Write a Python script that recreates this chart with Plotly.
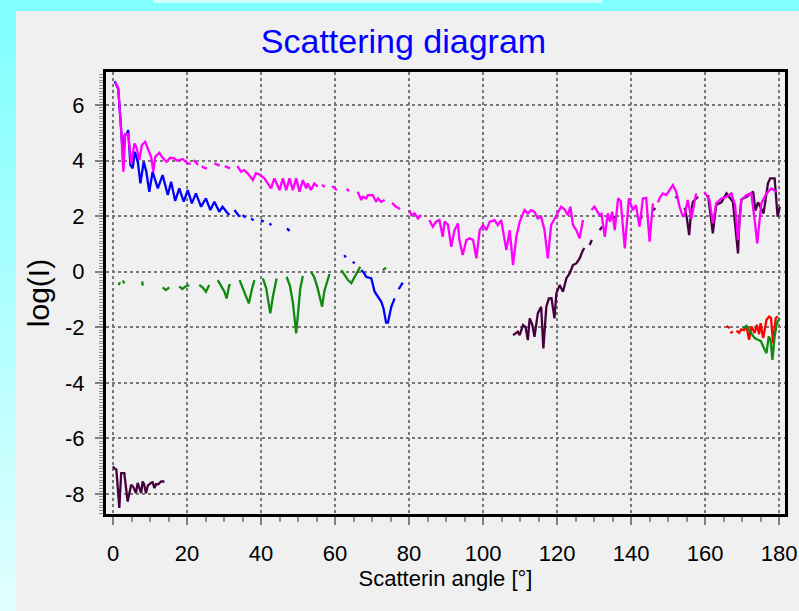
import plotly.graph_objects as go

# ---------------- data ----------------
magenta_x = [0.6, 1.4, 2.1, 2.8, 3.3, 4.1, 4.9, 5.8, 6.4, 7.1, 7.8, 8.7, 9.5, 10.3, 10.9, 11.4, 12.5, 13.4, 14.5, 15.4,
             16.6, 17.2, 17.9, 18.8, 20.2, 21.0, None, 21.8, 22.4, 23.0, None, 24.0, 24.7, 25.4, None, 27.4, 28.1, 28.8, None,
             30.2, 30.9, 31.6, None,
             33.6, 34.6, 35.4, 36.4, 37.8, 38.6, 39.6, 40.9, 42.7, 43.6, 45.0, 45.9, 46.8, 47.7, 48.6, 49.5, 50.4, 51.3,
             52.2, 52.6, 53.5, 54.4, 55.3, None, 56.4, 57.3, None, 59.2, 60.5, None, 63.1, 63.8, None, 66.1, 67.1, 67.5,
             68.4, 68.9, 70.2, 71.1, 71.6, 72.5, 73.4, None, 75.4, 76.5, 77.6, None, 80.1, 80.6, 81.5, 82.4, 83.3, None,
             85.5, 86.4, 87.3, 88.2, 89.1, 89.6, 90.5, 91.4, 92.3, 93.2, 93.6, 94.5, 95.5, 96.4, 97.3, 98.2, 99.1, 100.0,
             100.9, 101.8, 103.1, 104.0, 104.9, 106.3, 107.2, 108.1, 109.0, 109.9, 111.2, 112.1, 113.0, 113.9, 114.8,
             115.7, 116.6, 117.5, 118.4, 119.3, 120.2, 121.1, 122.0, 122.9, 123.6, 124.3, 125.2, 126.1, 127.0, None,
             129.3, 130.1, 131.5, 132.0, 132.9, 133.7, 134.3, 134.9, 135.6, 136.5, 137.2, 138.3, 139.4, 140.5, 141.3,
             142.3, 143.2, 144.1, 145.0, 145.9, None, 147.3, 147.7, 148.6, 149.5, 150.4, 151.3, 152.2, 153.1, 154.0,
             154.6, 155.3, 156.3, 157.6, None, 159.8, 161.2, 162.1, 163.0, 164.4, 165.8, 167.1, 168.1, 168.9, 169.8,
             171.2, 172.5, 173.4, 174.1, 175.2, 176.6, 177.9, 179.3]
magenta_y = [6.84, 6.6, 5.3, 3.6, 4.95, 4.95, 3.9, 4.62, 4.45, 4.02, 4.56, 4.68, 4.4, 4.14, 3.6, 4.14, 4.28, 4.1, 3.96, 4.1,
             4.08, 4.0, 4.02, 4.06, 3.9, 3.88, None, 4.02, 3.92, 3.84, None, 3.8, 3.74, 3.72, None, 3.9, 3.86, 3.82, None,
             3.8, 3.76, 3.72, None,
             3.8, 3.6, 3.66, 3.54, 3.3, 3.55, 3.5, 3.36, 3.0, 3.36, 2.94, 3.36, 2.94, 3.36, 2.94, 3.36, 2.88, 3.3,
             3.0, 3.18, 2.94, 3.18, 3.06, None, 3.12, 3.06, None, 3.08, 2.94, None, 2.98, 2.9, None, 2.88, 2.58, 2.7,
             2.64, 2.76, 2.76, 2.52, 2.64, 2.52, 2.58, None, 2.48, 2.34, 2.26, None, 2.22, 2.04, 2.1, 1.92, 2.04, None,
             1.86, 1.62, 1.8, 1.86, 1.26, 1.8, 1.7, 0.9, 1.5, 1.74, 1.14, 0.6, 1.14, 1.2, 1.14, 0.48, 1.5, 1.68,
             1.5, 1.8, 1.86, 1.68, 1.86, 0.78, 1.5, 0.24, 1.26, 1.8, 2.22, 2.1, 2.22, 2.16, 1.92,
             1.98, 1.5, 0.48, 1.68, 1.92, 2.16, 2.34, 2.25, 2.04, 2.34, 1.68, 1.5, 1.2, 1.86, None,
             2.22, 2.34, 2.04, 2.08, 1.26, 2.1, 1.8, 2.16, 1.5, 2.64, 2.55, 0.84, 2.64, 2.22, 2.4,
             1.62, 2.64, 2.66, 1.08, 2.46, None, 2.5, 2.64, 2.82, 2.76, 2.94, 3.12, 2.88, 2.34, 1.98,
             2.1, 2.58, 1.92, 2.82, None, 2.88, 2.58, 1.74, 2.46, 2.64, 2.7, 2.82, 2.4, 1.14, 2.58,
             2.76, 2.82, 1.86, 1.02, 2.46, 2.82, 3.0, 2.88]

blue_x = [0.4, 1.4, 2.1, 2.8, 3.1, 3.8, 4.1, 4.4, 4.7, 5.3, 5.9, 6.7, 7.4, 8.3, 9.0, 9.8, 10.7, 12.1, 13.4, 14.8, 15.7,
          16.8, 17.9, 19.1, 20.2, 21.3, 22.4, 23.8, 25.1, 26.3, 27.4, 28.7, 29.6, 31.0, 31.5, None, 32.8, 33.5, 34.2,
          None, 35.0, 35.8, None, 37.3, 38.0, None, 40.0, 40.7, None, 42.3, 42.8, None, 47.0, 47.7, None,
          62.5, 62.9, None, 64.8, 65.3, None, 67.1, 67.9, 68.4, 69.8, 70.2, 70.7, 71.6, 72.5, 73.1, 73.8, 74.3,
          75.2, 76.1, None, 77.2, 78.3]
blue_y = [6.86, 6.6, 5.3, 3.9, 4.9, 4.98, 5.1, 4.56, 3.84, 3.72, 4.32, 3.96, 3.18, 3.96, 3.6, 2.88, 3.6, 3.0, 3.48, 2.76, 3.24,
          2.55, 3.0, 2.52, 2.94, 2.46, 2.82, 2.34, 2.64, 2.22, 2.52, 2.16, 2.34, 2.1, 2.05, None, 2.22, 2.1, 1.98,
          None, 2.04, 1.95, None, 1.92, 1.85, None, 1.86, 1.8, None, 1.74, 1.68, None, 1.56, 1.47, None,
          0.6, 0.52, None, 0.36, 0.3, None, 0.06, -0.06, -0.18, -0.24, -0.45, -0.72, -0.9, -1.08, -1.32, -1.83, -1.83,
          -1.26, -0.96, None, -0.63, -0.39]

green_x = [1.5, 1.9, None, 2.6, 3.1, None, 7.9, 8.0, None, 13.4, 14.3, 15.2, None, 17.9, 18.7, 19.6, 20.6, None,
           23.3, 24.2, 25.1, 26.0, None, 28.3, 29.2, 30.1, 30.7, 31.4, 31.8, None, 34.2, 35.0, 36.0, 36.7, 37.5, 38.2,
           None, 40.5, 41.4, 42.5, 43.2, 44.2, None, 46.9, 47.8, 48.6, 49.5, 50.2, 50.6, 51.3, None, 53.5, 54.4,
           55.3, 56.5, 57.1, 57.8, 58.5, None, 61.7, 62.6, 63.5, 64.4, 65.3, 66.2, 66.8, None, 72.9, 73.8, None,
           170.3, 171.2, 171.9, 172.5, 173.4, 174.3, 175.1, 175.7, 176.6, 177.2, 177.7, 178.2, 178.8, 179.4, 180.2]
green_y = [-0.48, -0.38, None, -0.32, -0.42, None, -0.35, -0.5, None, -0.56, -0.66, -0.56, None, -0.53, -0.62, -0.53, -0.48, None,
           -0.48, -0.56, -0.72, -0.48, None, -0.3, -0.5, -0.72, -0.96, -0.48, -0.48, None, -0.3, -0.55, -0.9, -1.14, -0.65, -0.3,
           None, -0.24, -0.6, -1.5, -0.9, -0.24, None, -0.18, -0.5, -1.1, -2.22, -1.2, -0.6, -0.15, None, 0.0, -0.2,
           -0.6, -1.26, -0.7, -0.4, -0.08, None, 0.06, -0.1, -0.3, -0.41, -0.2, 0.06, 0.18, None, 0.06, 0.15, None,
           -2.03, -1.95, -2.1, -2.21, -2.39, -2.45, -2.5, -2.69, -2.93, -2.33, -2.45, -3.17, -2.33, -1.85, -1.67]

red_x = [165.8, 166.7, None, 166.8, 167.5, None, 168.5, 169.2, 169.8, 170.5, 171.2, 171.9, 172.5, 173.4, 174.0, 174.6,
         175.0, 175.7, 176.6, 177.3, 177.8, 178.4, 179.1, 179.7]
red_y = [-1.95, -2.03, None, -2.21, -2.15, None, -2.12, -2.2, -2.07, -2.1, -1.97, -2.45, -1.97, -2.2, -1.91, -2.25,
         -1.85, -2.39, -1.73, -1.61, -1.66, -2.57, -1.67, -1.61]

purple_x = [0.0, 0.35, 0.9, 1.7, 2.2, 3.05, 3.95, 4.9, 5.5, 6.2, 6.65, 7.6, 8.0, 8.4, 8.9, 9.4, 10.3, 10.7, 11.2, 11.6,
            12.2, 13.0, 13.9, None,
            108.1, 109.4, 109.9, 110.8, 111.5, 112.1, 112.6, 113.3, 113.9, 114.8, 115.7, 116.3, 117.1, 117.8, 118.5,
            119.3, 119.8, 120.7, 121.6, 122.5, 123.4, 124.3, 125.2, 126.1, 127.0, 127.4, None, 128.8, 129.4, None,
            131.5, 132.2, None, 135.1, 136.0, None, 142.3, 142.9, None, 146.0, 146.5, None, 152.0, 152.6, None,
            154.5, 155.1, 155.7, 156.2, 156.7, 158.1, None, 160.8, 161.5, 162.1, 163.0, 164.4, 165.8, 166.5, 167.5,
            168.9, 169.3, 169.8, 171.2, 173.0, 173.6, 174.3, 175.8, 177.0, 177.6, 178.8, 179.6, 180.2]
purple_y = [-7.0, -7.08, -7.12, -8.5, -7.25, -7.25, -8.27, -7.67, -7.75, -7.97, -7.6, -7.97, -7.55, -7.65, -7.97, -7.7,
            -7.6, -7.58, -7.79, -7.65, -7.65, -7.55, -7.55, None,
            -2.28, -2.16, -2.28, -1.92, -2.0, -2.46, -1.68, -1.9, -2.34, -1.5, -1.26, -2.76, -1.26, -0.96, -0.95,
            -1.68, -0.78, -0.48, -0.72, -0.24, -0.06, 0.24, 0.3, 0.48, 0.78, 0.85, None, 0.96, 1.14, None,
            1.5, 1.62, None, 1.92, 2.0, None, 1.85, 1.98, None, 2.2, 2.3, None, 2.65, 2.75, None,
            2.3, 1.92, 1.32, 2.1, 2.52, 2.7, None, 2.76, 2.1, 1.38, 2.4, 2.5, 2.82, 2.7, 2.52,
            0.66, 1.9, 2.6, 2.7, 2.88, 2.2, 2.5, 2.1, 3.18, 3.36, 3.36, 1.98, 2.34]

x_ticks = [0, 20, 40, 60, 80, 100, 120, 140, 160, 180]
y_ticks = [6, 4, 2, 0, -2, -4, -6, -8]

# ---------------- layout geometry ----------------
W, H = 799, 611
L, R, T, B = 106, 785, 72, 514


def px2x(px):
    return (px - L) / (R - L)


def py2y(py):
    return (B - py) / (B - T)


fig = go.Figure()

series = [
    (purple_x, purple_y, "#44003f"),
    (red_x, red_y, "#ff0000"),
    (green_x, green_y, "#118a11"),
    (blue_x, blue_y, "#0000ff"),
    (magenta_x, magenta_y, "#ff00ff"),
]
for xs, ys, col in series:
    fig.add_trace(go.Scatter(x=xs, y=ys, mode="lines", line=dict(color=col, width=2.3),
                             connectgaps=False, showlegend=False, hoverinfo="skip"))

shapes = []
# cyan gradient background
nb = 40
for i in range(nb):
    t = i / (nb - 1)
    r = int(128 + (224 - 128) * t)
    col = f"rgb({r},255,255)"
    y0 = H * i / nb
    y1 = H * (i + 1) / nb + 1
    shapes.append(dict(type="rect", xref="paper", yref="paper", x0=px2x(0), x1=px2x(W),
                       y0=py2y(y1), y1=py2y(y0), fillcolor=col, line=dict(width=0), layer="below"))
# light tab at top
shapes.append(dict(type="rect", xref="paper", yref="paper", x0=px2x(153), x1=px2x(602),
                   y0=py2y(3), y1=py2y(0), fillcolor="#d0ffff", line=dict(width=0), layer="below"))
# gray panel
shapes.append(dict(type="rect", xref="paper", yref="paper", x0=px2x(16), x1=px2x(W + 2),
                   y0=py2y(H + 2), y1=py2y(11), fillcolor="#f0f0f0", line=dict(width=0), layer="below"))

font_family = "Liberation Sans, Arial, sans-serif"

fig.update_layout(
    width=W, height=H,
    margin=dict(l=L, r=W - R, t=T, b=H - B, pad=0, autoexpand=False),
    paper_bgcolor="#80ffff",
    plot_bgcolor="#f0f0f0",
    shapes=shapes,
    font=dict(family=font_family, color="black"),
    title=dict(text="Scattering diagram", font=dict(size=34, color="#0000ff", family=font_family),
               xref="container", x=0.505, xanchor="center", yref="container", y=1 - 41 / H, yanchor="middle"),
    xaxis=dict(range=[-1.9, 181.6], tickmode="array", tickvals=x_ticks, ticktext=[str(v) for v in x_ticks],
               automargin=False,
               ticks="outside", ticklen=8, tickwidth=2, tickcolor="#808080", ticklabelstandoff=10,
               minor=dict(tickmode="linear", dtick=5, tick0=0, ticks="outside", ticklen=5, tickwidth=2,
                          tickcolor="#909090", showgrid=False),
               showgrid=True, gridcolor="#787878", gridwidth=2, griddash="dot", zeroline=False,
               showline=True, linecolor="black", linewidth=3, mirror=True,
               tickfont=dict(size=22, color="black"),
               title=dict(text="Scatterin angle [°]", font=dict(size=22, color="black"), standoff=4)),
    yaxis=dict(range=[-8.72, 7.19], tickmode="array", tickvals=y_ticks, ticktext=[str(v) for v in y_ticks],
               automargin=False,
               ticks="outside", ticklen=8, tickwidth=2, tickcolor="#808080", ticklabelstandoff=6,
               minor=dict(tickmode="linear", dtick=0.1, tick0=0, ticks="outside", ticklen=4, tickwidth=1,
                          tickcolor="#909090", showgrid=False),
               showgrid=True, gridcolor="#787878", gridwidth=2, griddash="dot", zeroline=False,
               showline=True, linecolor="black", linewidth=3, mirror=True,
               tickfont=dict(size=22, color="black"),
               title=dict(text="log(I)", font=dict(size=30, color="black"), standoff=7)),
)

fig.write_html("out.html", config={"displayModeBar": False},
               post_script="document.body.style.margin='0';document.body.style.padding='0';"
                           "document.body.style.overflow='hidden';")
